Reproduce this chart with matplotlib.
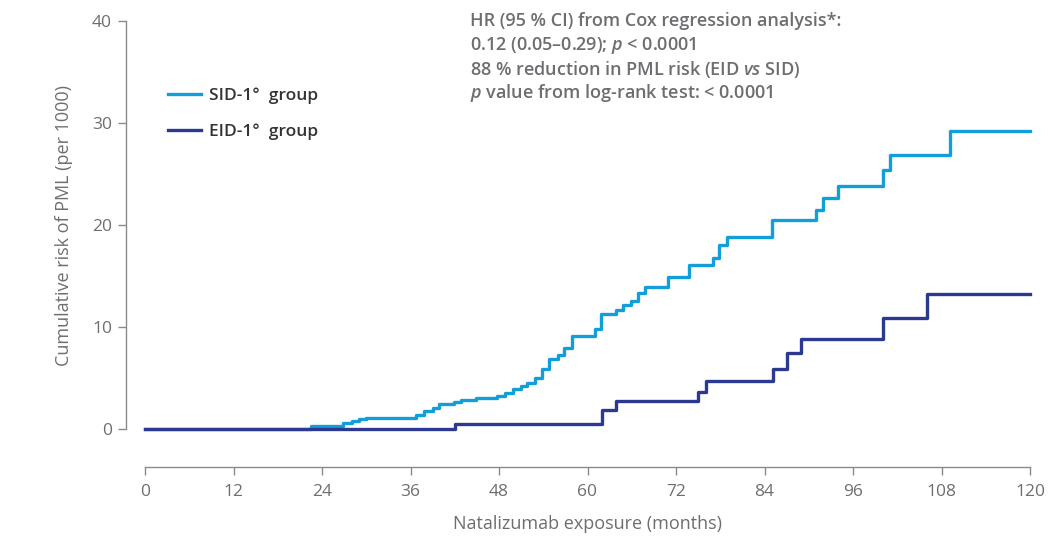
import matplotlib.pyplot as plt

plt.rcParams['font.family'] = ['Open Sans', 'DejaVu Sans']
plt.rcParams['mathtext.fontset'] = 'custom'
plt.rcParams['mathtext.rm'] = 'Open Sans:semibold'
plt.rcParams['mathtext.it'] = 'Open Sans:italic:semibold'

# step data (months, cumulative risk per 1000)
sid_months = [0, 22.5, 26.8, 28.0, 29.0, 30.0, 36.7, 37.8, 39.0, 39.9, 41.9, 42.8,
              44.9, 47.7, 48.8, 49.9, 51.0, 51.8, 52.9, 53.8, 54.8, 56.0, 56.8,
              57.9, 61.0, 61.8, 63.9, 64.8, 65.9, 66.8, 67.8, 70.9, 73.8, 77.0,
              77.8, 78.9, 85.0, 91.0, 91.9, 94.0, 100.1, 101.0, 109.2, 120]
sid_risk = [0, 0.3, 0.6, 0.8, 1.0, 1.1, 1.4, 1.75, 2.05, 2.45, 2.6, 2.85,
            3.0, 3.2, 3.55, 3.9, 4.2, 4.5, 5.0, 5.9, 6.9, 7.25, 7.9,
            9.15, 9.8, 11.3, 11.65, 12.15, 12.55, 13.35, 13.9, 14.9, 16.1, 16.8,
            18.0, 18.8, 20.5, 21.5, 22.6, 23.85, 25.4, 26.9, 29.2, 29.2]

eid_months = [0, 42.0, 62.0, 63.9, 75.0, 76.1, 85.1, 87.1, 89.0, 100.1, 106.0, 120]
eid_risk = [0, 0.5, 1.9, 2.7, 3.65, 4.7, 5.85, 7.5, 8.8, 10.85, 13.2, 13.2]

x_ticks = [0, 12, 24, 36, 48, 60, 72, 84, 96, 108, 120]
y_ticks = [0, 10, 20, 30, 40]

sid_color = '#119ed9'
eid_color = '#2b3990'
grey = '#6d6e71'

fig = plt.figure(figsize=(10.52, 5.45), dpi=100)
ax = fig.add_axes([145 / 1052, 116 / 545, 885 / 1052, 408 / 545])

ax.step(sid_months, sid_risk, where='post', color=sid_color, lw=2.4,
        label='SID-1°  group', clip_on=False)
ax.step(eid_months, eid_risk, where='post', color=eid_color, lw=2.4,
        label='EID-1°  group', clip_on=False)

ax.set_xlim(0, 120)
ax.set_ylim(0, 40)
ax.set_xticks(x_ticks)
ax.set_yticks(y_ticks)

for s in ['top', 'right']:
    ax.spines[s].set_visible(False)
# offsets are in points (px * 0.72 at 100 dpi)
ax.spines['bottom'].set_position(('outward', 27.4))
ax.spines['left'].set_position(('outward', 13.7))
for s in ['bottom', 'left']:
    ax.spines[s].set_color('#8a8a8a')
    ax.spines[s].set_linewidth(1.0)

ax.tick_params(axis='both', colors='#8a8a8a', labelcolor=grey, labelsize=12.5,
               length=6, width=1.0)
ax.tick_params(axis='x', pad=6)
ax.tick_params(axis='y', pad=4)
for lbl in ax.get_xticklabels() + ax.get_yticklabels():
    lbl.set_fontweight('medium')

ax.set_xlabel('Natalizumab exposure (months)', fontsize=13, color=grey,
              fontweight='medium', labelpad=11)
ax.set_ylabel('Cumulative risk of PML (per 1000)', fontsize=13, color=grey,
              fontweight='medium', labelpad=14)

leg = ax.legend(loc='upper left', bbox_to_anchor=(152 / 1052, 1 - 72 / 545),
                bbox_transform=fig.transFigure, frameon=False, fontsize=12.5,
                handlelength=1.9, handletextpad=0.5, labelspacing=1.1)
for t in leg.get_texts():
    t.set_color('#333333')
    t.set_fontweight('semibold')

lines = ['HR (95 % CI) from Cox regression analysis*:',
         '0.12 (0.05–0.29); $\\it{p}$ < 0.0001',
         '88 % reduction in PML risk (EID $\\it{vs}$ SID)',
         '$\\it{p}$ value from log-rank test: < 0.0001']
for i, s in enumerate(lines):
    fig.text(470 / 1052, 1 - (21 + 24 * i) / 545, s, fontsize=13, color=grey,
             fontweight='semibold', va='center', ha='left')

fig.savefig('out.png', dpi=100)
